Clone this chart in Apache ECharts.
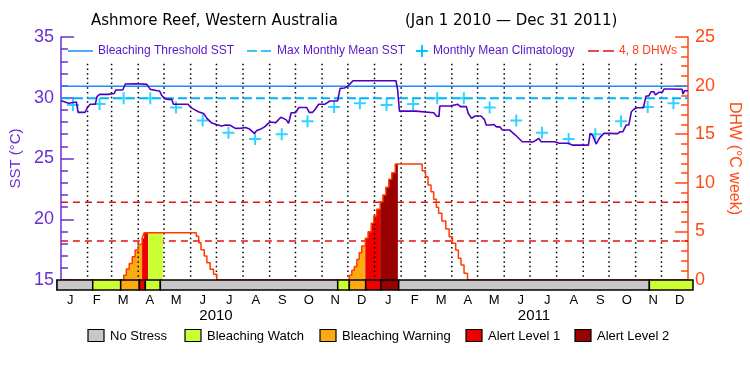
<!DOCTYPE html>
<html>
<head>
<meta charset="utf-8">
<title>Ashmore Reef DHW</title>
<script src="https://cdn.jsdelivr.net/npm/echarts@6/dist/echarts.min.js"></script>
<style>
html,body{margin:0;padding:0;background:#fff;}
#container{width:750px;height:375px;}
</style>
</head>
<body>
<div id="container"></div>
<script>
// axis labels
var monthLetters = ['J','F','M','A','M','J','J','A','S','O','N','D'];
var monthLengths = [31,28,31,30,31,30,31,31,30,31,30,31];
var years = ['2010','2011'];

// reference levels
var mmm = 29.95;
var bleachingThreshold = 30.95;
var dhwRefLevels = [4, 8];

// monthly mean climatology (Jan..Dec), same both years
var climatology = [29.40, 29.48, 29.95, 29.95, 29.20, 28.13, 27.12, 26.60, 27.00, 28.06, 29.24, 29.54];

// SST, days since Jan 1 2010
var sstDays = [0,3,5,9,11,18,20,28,31,34,40,42,45,55,57,62,64,72,75,89,
  100,102,104,111,113,115,117,120,124,129,131,148,151,156,160,166,170,175,181,187,
  192,197,203,210,215,220,225,228,232,237,243,250,256,262,265,268,273,277,286,289,
  293,296,300,307,309,313,322,325,330,333,336,340,390,392,394,413,415,434,437,440,
  441,453,455,462,465,472,474,478,482,489,493,495,500,504,507,511,514,522,529,537,
  546,549,553,556,559,575,580,591,595,614,616,619,623,627,632,638,648,651,654,658,
  661,664,667,670,678,681,684,687,690,692,696,700,702,706,707,723,724,726,730];
var sstValues = [29.76,29.7,29.55,29.55,29.63,29.65,28.8,28.8,29.2,29.46,29.46,30.09,30.28,30.28,30.3,30.35,30.64,30.64,31.13,31.15,
  31.1,30.97,30.69,30.6,30.45,30.55,30.23,29.95,29.87,29.87,29.46,29.46,29.21,29.0,28.85,28.7,28.3,27.95,27.8,27.67,
  27.76,27.74,27.48,27.5,27.55,27.4,27.07,27.3,27.4,27.6,28.0,27.95,28.39,28.2,27.9,28.77,28.77,29.2,29.2,28.8,
  28.8,29.05,29.46,29.46,29.55,29.73,29.73,30.77,30.8,30.9,31.1,31.4,31.4,30.6,28.9,28.9,28.77,28.77,28.5,28.45,
  29.32,29.32,29.46,29.46,29.27,29.27,28.72,28.3,28.5,28.5,28.2,27.76,27.76,27.8,27.6,27.6,27.35,27.35,26.93,26.38,
  26.38,26.35,26.5,26.66,26.38,26.38,26.25,26.25,26.1,26.1,27.07,26.9,26.19,26.7,27.07,27.07,27.05,27.2,27.2,27.76,
  27.76,28.85,29.05,29.18,29.18,30.14,30.14,30.5,30.5,30.23,30.45,30.45,30.72,30.72,30.7,30.7,30.3,30.58,30.58];

// degree heating weeks, value holds from each day to the next
var dhwDays = [0,73.1,76.1,79.5,83.0,86.4,89.9,94.5,96.8,157.6,160.4,163.0,166.8,169.9,173.7,177.6,181.4,
  335.5,338.6,341.5,344.4,347.2,350.1,354.3,357.5,361.2,364.2,367.6,371.6,374.8,378.2,381.7,385.1,389.1,
  420.5,424.4,427.3,430.8,433.9,437.0,439.6,443.4,448.0,451.9,455.7,459.5,462.6,465.7,469.2,473.3,730];
var dhwValues = [0,0.5,1.13,1.71,2.4,3.09,3.67,4.29,4.87,4.5,3.84,3.1,2.47,1.78,1.1,0.58,0,
  0.5,1.0,1.4,2.1,2.8,3.5,4.29,4.97,5.83,6.58,7.27,8.06,8.74,9.53,10.36,11.04,11.93,
  11.25,10.63,9.77,9.09,8.3,7.48,6.86,6.07,5.25,4.46,3.77,3.09,2.23,1.54,0.69,0,0];

// stress level periods
var stressStart = [0,41,73.1,94.5,101.4,118.6,322.2,335.5,354.3,371.6,392.2,679.9];
var stressEnd   = [41,73.1,94.5,101.4,118.6,322.2,335.5,354.3,371.6,392.2,679.9,730];
var stressLevel = [0,1,2,3,1,0,1,2,3,4,0,1];
var stressNames = ['No Stress','Bleaching Watch','Bleaching Warning','Alert Level 1','Alert Level 2'];
var stressColors = ['#c8c8c8','#ccff33','#fbaa12','#ee0000','#990000'];

var purple = '#6a30d0';
var sstColor = '#5000c0';
var orange = '#ff4a14';

var months24 = monthLetters.concat(monthLetters);
var monthStarts = [];
var acc = 0;
for (var y = 0; y < 2; y++) {
    for (var m = 0; m < 12; m++) {
        monthStarts.push(acc);
        acc += monthLengths[m];
    }
}

var sstData = sstDays.map(function (d, i) { return [d, sstValues[i]]; });
var dhwData = dhwDays.map(function (d, i) { return [d, dhwValues[i]]; });
var climData = monthStarts.map(function (d, i) { return [d + 14, climatology[i % 12]]; });
var stressData = stressStart.map(function (s, i) { return [s, stressEnd[i], stressLevel[i]]; });
var boundaryData = monthStarts.slice(1).map(function (d) { return [d]; });

function dhwAt(t) {
    var v = 0;
    for (var i = 0; i < dhwDays.length; i++) {
        if (dhwDays[i] <= t) v = dhwValues[i];
    }
    return v;
}

var font = 'Liberation Sans';
var crossPath = 'path://M5,0h2v5h5v2h-5v5h-2v-5h-5v-2h5z';

var myChart = echarts.init(document.getElementById('container'));

var series = [];

dhwRefLevels.forEach(function (lv) {
    series.push({
        type: 'line', xAxisIndex: 0, yAxisIndex: 1, z: 1,
        data: [[0, lv], [730, lv]], symbol: 'none', silent: true,
        lineStyle: { color: '#e81010', width: 1.5, type: [7, 5] }
    });
});

// DHW fill coloured by stress level
series.push({
    type: 'custom', xAxisIndex: 0, yAxisIndex: 1, z: 2,
    data: stressData, encode: { x: [0, 1], y: 2 },
    renderItem: function (params, api) {
        var a = api.value(0), b = api.value(1), lvl = api.value(2);
        if (lvl === 0) return;
        var v = dhwAt(a);
        var pts = [api.coord([a, 0]), api.coord([a, v])];
        for (var i = 0; i < dhwDays.length; i++) {
            if (dhwDays[i] > a && dhwDays[i] < b) {
                pts.push(api.coord([dhwDays[i], v]));
                v = dhwValues[i];
                pts.push(api.coord([dhwDays[i], v]));
            }
        }
        pts.push(api.coord([b, v]));
        pts.push(api.coord([b, 0]));
        return { type: 'polygon', shape: { points: pts }, style: { fill: stressColors[lvl] } };
    }
});

// dotted month boundaries
series.push({
    type: 'custom', xAxisIndex: 0, yAxisIndex: 0, z: 3,
    data: boundaryData, encode: { x: 0 },
    renderItem: function (params, api) {
        var d = api.value(0);
        var p0 = api.coord([d, 32.8]), p1 = api.coord([d, 15]);
        return {
            type: 'line',
            shape: { x1: p0[0], y1: p0[1], x2: p1[0], y2: p1[1] },
            style: { stroke: '#000', lineWidth: 1.5, lineDash: [1.5, 3.2] }
        };
    }
});

series.push({
    type: 'line', xAxisIndex: 0, yAxisIndex: 0, z: 3,
    data: [[0, bleachingThreshold], [730, bleachingThreshold]], symbol: 'none',
    lineStyle: { color: '#1a8cff', width: 1.5 }
});
series.push({
    type: 'line', xAxisIndex: 0, yAxisIndex: 0, z: 3,
    data: [[0, mmm], [730, mmm]], symbol: 'none',
    lineStyle: { color: '#00b0ff', width: 2, type: [9, 4] }
});

series.push({
    type: 'scatter', xAxisIndex: 0, yAxisIndex: 0, z: 4,
    data: climData, symbol: crossPath, symbolSize: 12,
    itemStyle: { color: '#00c8ff' }
});

series.push({
    type: 'line', xAxisIndex: 0, yAxisIndex: 0, z: 5,
    data: sstData, symbol: 'none',
    lineStyle: { color: sstColor, width: 1.6 }
});

series.push({
    type: 'line', xAxisIndex: 0, yAxisIndex: 1, z: 5,
    data: dhwData, symbol: 'none', step: 'end',
    lineStyle: { color: '#ff3c00', width: 1.5 }
});

// stress bar
series.push({
    type: 'custom', xAxisIndex: 1, yAxisIndex: 2, z: 10,
    data: stressData, encode: { x: [0, 1] },
    renderItem: function (params, api) {
        var p0 = api.coord([api.value(0), 1]), p1 = api.coord([api.value(1), 0]);
        return {
            type: 'rect',
            shape: { x: p0[0], y: p0[1], width: p1[0] - p0[0], height: p1[1] - p0[1] },
            style: { fill: stressColors[api.value(2)], stroke: '#000', lineWidth: 1.5 }
        };
    }
});

// legends drawn as plain graphics
var graphics = [
    { type: 'text', left: 91, top: 14, style: { text: 'Ashmore Reef, Western Australia', font: '15px "DejaVu Sans"', fill: '#000' } },
    { type: 'text', left: 405, top: 14, style: { text: '(Jan 1 2010 \u2014 Dec 31 2011)', font: '15px "DejaVu Sans"', fill: '#000' } },
    { type: 'line', shape: { x1: 68, y1: 51, x2: 93, y2: 51 }, style: { stroke: '#1a8cff', lineWidth: 1.5 } },
    { type: 'text', x: 98, y: 51, style: { text: 'Bleaching Threshold SST', font: '12px "' + font + '"', fill: '#5a14c8', verticalAlign: 'middle' } },
    { type: 'line', shape: { x1: 247, y1: 51, x2: 271, y2: 51 }, style: { stroke: '#00b0ff', lineWidth: 1.5, lineDash: [10, 4] } },
    { type: 'text', x: 277, y: 51, style: { text: 'Max Monthly Mean SST', font: '12px "' + font + '"', fill: '#5a14c8', verticalAlign: 'middle' } },
    { type: 'line', shape: { x1: 416, y1: 51, x2: 428, y2: 51 }, style: { stroke: '#00c8ff', lineWidth: 2 } },
    { type: 'line', shape: { x1: 422, y1: 45, x2: 422, y2: 57 }, style: { stroke: '#00c8ff', lineWidth: 2 } },
    { type: 'text', x: 433, y: 51, style: { text: 'Monthly Mean Climatology', font: '12px "' + font + '"', fill: '#5a14c8', verticalAlign: 'middle' } },
    { type: 'line', shape: { x1: 588, y1: 51, x2: 615, y2: 51 }, style: { stroke: '#e81010', lineWidth: 1.5, lineDash: [11, 4] } },
    { type: 'text', x: 619, y: 51, style: { text: '4, 8 DHWs', font: '12px "' + font + '"', fill: '#ff3c1a', verticalAlign: 'middle' } }
];
var boxX = [88, 185, 320, 466, 575];
stressNames.forEach(function (name, i) {
    graphics.push({ type: 'rect', shape: { x: boxX[i], y: 329.5, width: 16, height: 12 },
        style: { fill: stressColors[i], stroke: '#000', lineWidth: 1.2 } });
    graphics.push({ type: 'text', x: boxX[i] + 22, y: 336, style: { text: name, font: '13px "' + font + '"', fill: '#000', verticalAlign: 'middle' } });
});

var option = {
    backgroundColor: '#fff',
    animation: false,
    textStyle: { fontFamily: font },
    grid: [
        { left: 57, right: 57, top: 37, height: 243 },
        { left: 57, right: 57, top: 280, height: 10 }
    ],
    xAxis: [
        { gridIndex: 0, type: 'value', min: 0, max: 730, position: 'top',
          axisLine: { show: true, lineStyle: { color: '#000', width: 1 } },
          axisTick: { show: false }, axisLabel: { show: false }, splitLine: { show: false } },
        { gridIndex: 1, type: 'value', min: 0, max: 730, show: false },
        { gridIndex: 1, type: 'category', data: months24, position: 'bottom', boundaryGap: true,
          axisLine: { show: false }, axisTick: { show: false },
          axisLabel: { color: '#000', fontSize: 13, margin: 4, interval: 0 } },
        { gridIndex: 1, type: 'category', data: years, position: 'bottom', offset: 14, boundaryGap: true,
          axisLine: { show: false }, axisTick: { show: false },
          axisLabel: { color: '#000', fontSize: 15, margin: 4, interval: 0 } }
    ],
    yAxis: [
        { gridIndex: 0, type: 'value', min: 15, max: 35, interval: 5, position: 'left',
          axisLine: { show: true, lineStyle: { color: purple, width: 1.5 } },
          axisTick: { show: true, inside: true, length: 13, lineStyle: { color: purple, width: 1.5 } },
          minorTick: { show: true, splitNumber: 5, length: 7, lineStyle: { color: purple, width: 1.5 } },
          axisLabel: { color: purple, fontSize: 18, margin: 7 },
          splitLine: { show: false },
          name: 'SST (\u00b0C)', nameLocation: 'middle', nameRotate: 90, nameGap: 32,
          nameTextStyle: { color: purple, fontSize: 15 } },
        { gridIndex: 0, type: 'value', min: 0, max: 25, interval: 5, position: 'right',
          axisLine: { show: true, lineStyle: { color: orange, width: 1.5 } },
          axisTick: { show: true, inside: true, length: 13, lineStyle: { color: orange, width: 1.5 } },
          minorTick: { show: true, splitNumber: 5, length: 7, lineStyle: { color: orange, width: 1.5 } },
          axisLabel: { color: orange, fontSize: 18, margin: 7 },
          splitLine: { show: false },
          name: 'DHW (\u00b0C week)', nameLocation: 'middle', nameRotate: -90, nameGap: 30,
          nameTextStyle: { color: orange, fontSize: 16 } },
        { gridIndex: 1, type: 'value', min: 0, max: 1, position: 'left',
          axisLine: { show: true, lineStyle: { color: purple, width: 1.5 } },
          axisTick: { show: false }, axisLabel: { show: false }, splitLine: { show: false } }
    ],
    graphic: graphics,
    series: series
};

myChart.setOption(option);
</script>
</body>
</html>
